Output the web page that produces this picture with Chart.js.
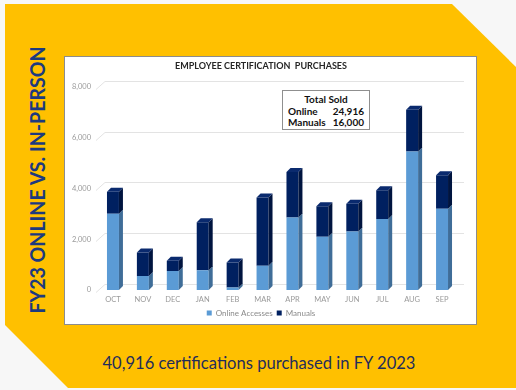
<!DOCTYPE html>
<html>
<head>
<meta charset="utf-8">
<script src="https://cdn.jsdelivr.net/npm/chart.js@4"></script>
<style>
  html, body { margin: 0; padding: 0; }
  body { width: 516px; height: 390px; background: #f7f7f7; position: relative; overflow: hidden; font-family: Lato, sans-serif; }
  #yellow { position: absolute; left: 5px; top: 4px; width: 511px; height: 384px; background: #ffc000;
    clip-path: polygon(0 0, 447px 0, 511px 63px, 511px 384px, 63px 384px, 0 321px); }
  #side { position: absolute; left: 35.5px; top: 179.5px; transform: translate(-50%, -50%) rotate(-90deg);
    white-space: nowrap; font-weight: 700; font-size: 21px; color: #1d3a7f; line-height: 1; }
  #panel { position: absolute; left: 64px; top: 56px; width: 413px; height: 269px; box-sizing: border-box;
    border: 1px solid #8c8c8c; background: #fff; }
  #c { position: absolute; left: 0; top: 0; }
  #totals { position: absolute; left: 217px; top: 33px; width: 88px; height: 40px; box-sizing: border-box;
    border: 1px solid #8f8f8f; background: #fff; font-weight: 700; font-size: 10px; color: #111;
    line-height: 11.7px; padding: 3px 5px 0 5px; }
  #totals .row { display: flex; justify-content: space-between; }
  #totals .head { text-align: center; }
  #caption { position: absolute; left: 258.5px; top: 362px; transform: translate(-50%, -50%);
    white-space: nowrap; font-size: 17px; color: #1f2d5c; }
</style>
</head>
<body>
<div id="yellow"></div>
<div id="side">FY23 ONLINE VS. IN-PERSON</div>
<div id="panel">
  <canvas id="c" width="411" height="267"></canvas>
  <div id="totals">
    <div class="head">Total Sold</div>
    <div class="row"><span>Online</span><span>24,916</span></div>
    <div class="row"><span>Manuals</span><span>16,000</span></div>
  </div>
</div>
<div id="caption">40,916 certifications purchased in FY 2023</div>
<script>
const months = ['OCT', 'NOV', 'DEC', 'JAN', 'FEB', 'MAR', 'APR', 'MAY', 'JUN', 'JUL', 'AUG', 'SEP']
const online = [3000, 550, 750, 780, 100, 950, 2850, 2100, 2300, 2800, 5450, 3200]
const manuals = [870, 930, 400, 1890, 980, 2690, 1800, 1200, 1100, 1130, 1650, 1320]
const yTicks = [0, 2000, 4000, 6000, 8000]

const frontColors = ['#5b9bd5', '#002060']
const sideColors = ['#3f6d98', '#00143f']
const topColors = ['#6fa8dc', '#0a2a6e']

// stretch the two text lines to the width they have in the picture
const side = document.getElementById('side')
side.style.transform = `translate(-50%, -50%) rotate(-90deg) scaleX(${267 / side.scrollWidth})`
const cap = document.getElementById('caption')
cap.style.transform = `translate(-50%, -50%) scaleX(${313 / cap.scrollWidth})`

// back wall gridlines, shifted up and right like the 3D chart
const backGrid = {
  id: 'backGrid',
  beforeDatasetsDraw(chart) {
    const ctx = chart.ctx
    const y = chart.scales.y
    const area = chart.chartArea
    ctx.save()
    ctx.strokeStyle = '#e3e3e3'
    ctx.lineWidth = 1
    for (const v of yTicks) {
      const py = Math.round(y.getPixelForValue(v)) + 0.5
      ctx.beginPath()
      ctx.moveTo(area.left - 2, py + 2)
      ctx.lineTo(area.left + 7, py - 6)
      ctx.lineTo(area.right + 7, py - 6)
      ctx.stroke()
    }
    ctx.restore()
  }
}

// side and top faces of the bars
const bar3d = {
  id: 'bar3d',
  afterDatasetsDraw(chart) {
    const ctx = chart.ctx
    const dx = 4, dy = -4
    const metas = chart.getSortedVisibleDatasetMetas()
    ctx.save()
    metas.forEach((meta, di) => {
      meta.data.forEach(bar => {
        const p = bar.getProps(['x', 'y', 'base', 'width'], true)
        const l = p.x - p.width / 2
        const r = p.x + p.width / 2
        ctx.fillStyle = sideColors[di]
        ctx.beginPath()
        ctx.moveTo(r, p.base)
        ctx.lineTo(r + dx, p.base + dy)
        ctx.lineTo(r + dx, p.y + dy)
        ctx.lineTo(r, p.y)
        ctx.closePath()
        ctx.fill()
        if (di === metas.length - 1) {
          ctx.fillStyle = topColors[di]
          ctx.beginPath()
          ctx.moveTo(l, p.y)
          ctx.lineTo(r, p.y)
          ctx.lineTo(r + dx, p.y + dy)
          ctx.lineTo(l + dx, p.y + dy)
          ctx.closePath()
          ctx.fill()
        }
      })
    })
    ctx.restore()
  }
}

new Chart('c', {
  type: 'bar',
  data: {
    labels: months,
    datasets: [
      { label: 'Online Accesses', data: online, backgroundColor: frontColors[0] },
      { label: 'Manuals', data: manuals, backgroundColor: frontColors[1] }
    ]
  },
  options: {
    responsive: false,
    animation: false,
    devicePixelRatio: 1,
    layout: { padding: { left: 0, right: 19, top: 0, bottom: -3 } },
    datasets: { bar: { barPercentage: 0.4, categoryPercentage: 1 } },
    scales: {
      x: {
        stacked: true,
        grid: { display: false, drawTicks: false },
        border: { display: false },
        ticks: { color: '#9a9a9a', font: { family: 'Lato', size: 7.5 }, padding: 5 },
        afterFit: s => { s.height = 15 }
      },
      y: {
        stacked: true,
        min: 0,
        max: 8000,
        grid: { display: false, drawTicks: false },
        border: { display: false },
        afterBuildTicks: s => { s.ticks = yTicks.map(v => ({ value: v })) },
        ticks: {
          color: '#9a9a9a', font: { family: 'Lato', size: 7.5 }, padding: 7,
          callback: v => v.toLocaleString('en-US')
        },
        afterFit: s => { s.width = 33 }
      }
    },
    plugins: {
      title: {
        display: true,
        text: 'EMPLOYEE CERTIFICATION  PURCHASES',
        color: '#262626',
        font: { family: 'Lato', size: 9, weight: 'bold' },
        padding: { top: 4, bottom: 15 }
      },
      legend: {
        position: 'bottom',
        labels: {
          color: '#8a8a8a', font: { family: 'Lato', size: 8 },
          boxWidth: 5, boxHeight: 5, padding: 4
        }
      },
      tooltip: { enabled: false }
    }
  },
  plugins: [backGrid, bar3d]
})
</script>
</body>
</html>
